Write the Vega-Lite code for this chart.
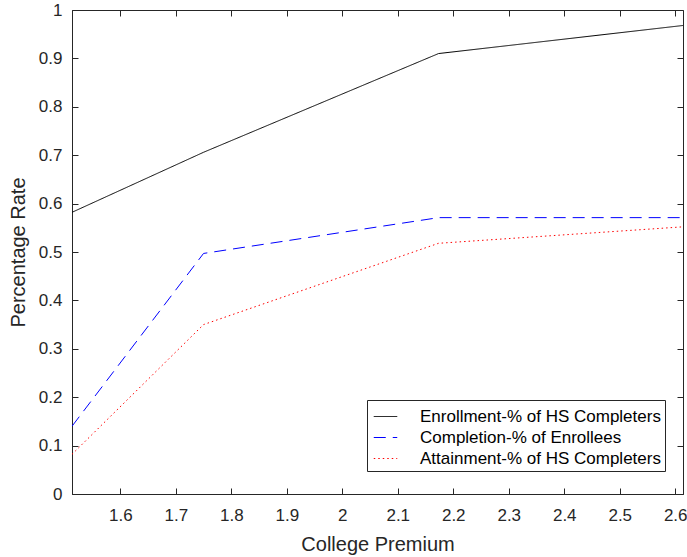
{
  "$schema": "https://vega.github.io/schema/vega-lite/v6.json",
  "autosize": "none",
  "padding": {"left": 72, "top": 10, "right": 4, "bottom": 63},
  "width": 611,
  "height": 484,
  "config": {
    "font": "Liberation Sans",
    "view": {"stroke": "#262626", "strokeWidth": 1},
    "axis": {
      "grid": false,
      "domainColor": "#262626",
      "tickColor": "#262626",
      "labelColor": "#262626",
      "titleColor": "#262626",
      "labelFont": "Liberation Sans",
      "titleFont": "Liberation Sans",
      "labelFontSize": 17,
      "titleFontSize": 20,
      "titleFontWeight": "normal",
      "tickSize": -6
    }
  },
  "data": {
    "values": [
      {"series": "Enrollment-% of HS Completers", "premium": 1.513, "rate": 0.582},
      {"series": "Enrollment-% of HS Completers", "premium": 1.75, "rate": 0.706},
      {"series": "Enrollment-% of HS Completers", "premium": 2.1735, "rate": 0.91},
      {"series": "Enrollment-% of HS Completers", "premium": 2.614, "rate": 0.968},
      {"series": "Completion-% of Enrollees", "premium": 1.513, "rate": 0.14},
      {"series": "Completion-% of Enrollees", "premium": 1.75, "rate": 0.497},
      {"series": "Completion-% of Enrollees", "premium": 2.1735, "rate": 0.571},
      {"series": "Completion-% of Enrollees", "premium": 2.614, "rate": 0.571},
      {"series": "Attainment-% of HS Completers", "premium": 1.513, "rate": 0.082},
      {"series": "Attainment-% of HS Completers", "premium": 1.75, "rate": 0.35},
      {"series": "Attainment-% of HS Completers", "premium": 2.1735, "rate": 0.518},
      {"series": "Attainment-% of HS Completers", "premium": 2.614, "rate": 0.552}
    ]
  },
  "layer": [
    {
      "mark": {"type": "line", "strokeWidth": 1, "clip": true},
      "encoding": {
        "x": {
          "field": "premium", "type": "quantitative",
          "scale": {"domain": [1.513, 2.614], "nice": false, "zero": false},
          "axis": {"values": [1.6, 1.7, 1.8, 1.9, 2, 2.1, 2.2, 2.3, 2.4, 2.5, 2.6], "format": "~g", "title": "College Premium", "labelPadding": 19, "titlePadding": 11}
        },
        "y": {
          "field": "rate", "type": "quantitative",
          "scale": {"domain": [0, 1], "nice": false},
          "axis": {"values": [0, 0.1, 0.2, 0.3, 0.4, 0.5, 0.6, 0.7, 0.8, 0.9, 1], "format": "~g", "title": "Percentage Rate", "labelPadding": 16, "titlePadding": 10}
        },
        "color": {
          "field": "series", "type": "nominal",
          "scale": {"domain": ["Enrollment-% of HS Completers", "Completion-% of Enrollees", "Attainment-% of HS Completers"], "range": ["#000000", "#0000ff", "#ff0000"]},
          "legend": {
            "title": null, "orient": "none", "legendX": 295, "legendY": 390,
            "strokeColor": "#262626", "fillColor": "white", "padding": 4,
            "symbolType": "stroke", "symbolSize": 552, "symbolStrokeWidth": 1, "symbolOffset": 2,
            "labelFontSize": 17, "labelColor": "#000000", "labelLimit": 400, "rowPadding": 0, "labelOffset": 22
          }
        },
        "strokeDash": {
          "field": "series", "type": "nominal",
          "scale": {"domain": ["Enrollment-% of HS Completers", "Completion-% of Enrollees", "Attainment-% of HS Completers"], "range": [[1, 0], [12, 7], [1.5, 3]]},
          "legend": {
            "title": null, "orient": "none", "legendX": 295, "legendY": 390,
            "strokeColor": "#262626", "fillColor": "white", "padding": 4,
            "symbolType": "stroke", "symbolSize": 552, "symbolStrokeWidth": 1, "symbolOffset": 2,
            "labelFontSize": 17, "labelColor": "#000000", "labelLimit": 400, "rowPadding": 0, "labelOffset": 22
          }
        }
      }
    },
    {
      "mark": {"type": "line", "opacity": 0},
      "encoding": {
        "x": {
          "field": "premium", "type": "quantitative",
          "axis": {"orient": "top", "values": [1.6, 1.7, 1.8, 1.9, 2, 2.1, 2.2, 2.3, 2.4, 2.5, 2.6], "labels": false, "title": null, "domain": false}
        },
        "y": {
          "field": "rate", "type": "quantitative",
          "axis": {"orient": "right", "values": [0, 0.1, 0.2, 0.3, 0.4, 0.5, 0.6, 0.7, 0.8, 0.9, 1], "labels": false, "title": null, "domain": false}
        },
        "detail": {"field": "series"}
      }
    }
  ],
  "resolve": {"axis": {"x": "independent", "y": "independent"}}
}
